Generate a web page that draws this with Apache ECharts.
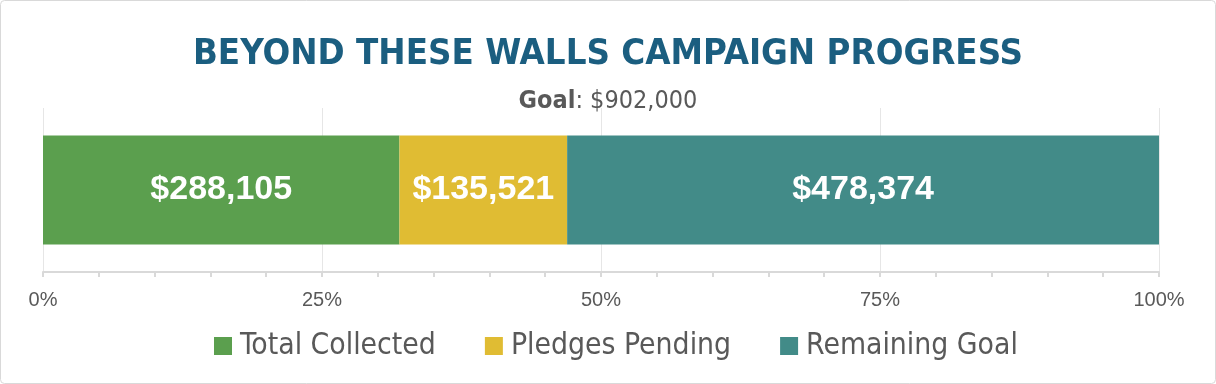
<!DOCTYPE html>
<html>
<head>
<meta charset="utf-8">
<script src="https://cdn.jsdelivr.net/npm/echarts@6/dist/echarts.min.js"></script>
<style>
html,body{margin:0;padding:0;background:#fff;}
#c{width:1216px;height:384px;}
</style>
</head>
<body>
<div id="c"></div>
<script>
const categories = ['Campaign'];
const goal = 902000;
const totalCollected = [288105];
const pledgesPending = [135521];
const remainingGoal = [478374];
const tickLabels = ['0%', '25%', '50%', '75%', '100%'];

const narrow = '"DejaVu Sans Condensed", "Liberation Sans Narrow", sans-serif';
const fmtMoney = v => '$' + Number(v).toLocaleString('en-US');

const chart = echarts.init(document.getElementById('c'), null, {renderer: 'canvas'});

function barSeries(name, data, color) {
  return {
    name: name,
    type: 'bar',
    stack: 'total',
    data: data,
    barWidth: 109,
    itemStyle: {color: color},
    label: {
      show: true,
      position: 'inside',
      color: '#ffffff',
      fontFamily: '"Liberation Sans", Arial, sans-serif',
      fontWeight: 'bold',
      fontSize: 34,
      formatter: p => fmtMoney(p.value)
    },
    emphasis: {disabled: true}
  };
}

chart.setOption({
  animation: false,
  backgroundColor: '#ffffff',
  title: [{
    text: 'BEYOND THESE WALLS CAMPAIGN PROGRESS',
    left: 'center',
    top: 32,
    textStyle: {fontFamily: narrow, fontWeight: 'bold', fontSize: 36.3, color: '#1B5E80'}
  }, {
    text: '{b|Goal}: $902,000',
    left: 'center',
    top: 84,
    textStyle: {
      fontFamily: narrow, fontSize: 25, fontWeight: 'normal', color: '#595959',
      rich: {b: {fontFamily: narrow, fontSize: 25, fontWeight: 'bold', color: '#595959'}}
    }
  }],
  legend: {
    bottom: 18,
    left: 209,
    icon: 'rect',
    itemWidth: 18,
    itemHeight: 18,
    itemGap: 49,
    textStyle: {fontFamily: narrow, fontSize: 29.8, color: '#595959', padding: [0, 0, 0, 3]},
    selectedMode: false
  },
  grid: {left: 43, right: 57, top: 108, bottom: 112, containLabel: false},
  xAxis: {
    type: 'value',
    min: 0,
    max: goal,
    interval: goal / 4,
    axisLine: {show: true, lineStyle: {color: '#d9d9d9', width: 2}},
    axisTick: {show: true, length: 5, lineStyle: {color: '#d9d9d9', width: 2}},
    minorTick: {show: true, splitNumber: 5, length: 5, lineStyle: {color: '#d9d9d9', width: 2}},
    splitLine: {show: true, lineStyle: {color: '#e6e6e6', width: 1}},
    axisLabel: {
      margin: 18,
      fontFamily: '"Liberation Sans", Arial, sans-serif',
      fontSize: 20,
      color: '#595959',
      formatter: (v) => tickLabels[Math.round(v / (goal / 4))]
    }
  },
  yAxis: {
    type: 'category',
    data: categories,
    axisLine: {show: false},
    axisTick: {show: false},
    axisLabel: {show: false}
  },
  graphic: [{
    type: 'rect',
    shape: {x: 0.5, y: 0.5, width: 1215, height: 383, r: 4},
    style: {fill: 'none', stroke: '#d9d9d9', lineWidth: 1},
    silent: true
  }],
  series: [
    barSeries('Total Collected', totalCollected, '#5B9F4E'),
    barSeries('Pledges Pending', pledgesPending, '#E0BC33'),
    barSeries('Remaining Goal', remainingGoal, '#428B88')
  ]
});
</script>
</body>
</html>
